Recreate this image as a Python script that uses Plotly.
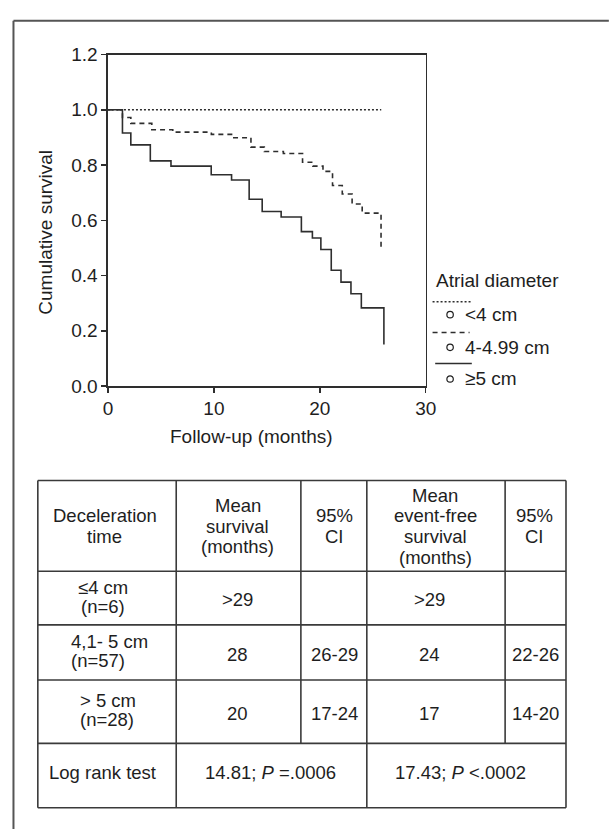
import plotly.graph_objects as go

W, H = 614, 836

# ---------------- data (Kaplan-Meier step curves) ----------------
series_names = ["<4 cm", "4-4.99 cm", "≥5 cm"]

t_lt4 = [0, 25.8]
s_lt4 = [1.0, 1.0]

t_4to5 = [0, 1.37, 2.16, 4.14, 6.12, 9.76, 11.88, 13.5, 14.76, 16.56, 18.37,
          19.35, 20.3, 21.2, 22.12, 23.05, 24.0, 25.78]
s_4to5 = [1.0, 0.972, 0.951, 0.928, 0.919, 0.911, 0.899, 0.865, 0.849, 0.842, 0.810,
          0.796, 0.777, 0.726, 0.695, 0.659, 0.626, 0.50]

t_ge5 = [0, 1.37, 2.16, 4.0, 5.95, 9.75, 11.67, 13.33, 14.56, 16.35, 18.26,
         19.3, 20.1, 21.08, 22.0, 22.94, 23.92, 26.05]
s_ge5 = [1.0, 0.916, 0.873, 0.815, 0.796, 0.765, 0.746, 0.676, 0.632, 0.612, 0.559,
         0.536, 0.494, 0.419, 0.376, 0.334, 0.283, 0.150]

x_ticks = [0, 10, 20, 30]
y_ticks = [0.0, 0.2, 0.4, 0.6, 0.8, 1.0, 1.2]

x_title = "Follow-up (months)"
y_title = "Cumulative survival"
legend_title = "Atrial diameter"

# ---------------- table content ----------------
header_cells = [
    ["Deceleration", "time"],
    ["Mean", "survival", "(months)"],
    ["95%", "CI"],
    ["Mean", "event-free", "survival", "(months)"],
    ["95%", "CI"],
]
row_groups = [["≤4 cm", "(n=6)"], ["4,1- 5 cm", "(n=57)"], ["> 5 cm", "(n=28)"]]
mean_survival = [">29", "28", "20"]
ci_survival = ["", "26-29", "17-24"]
mean_event_free = [">29", "24", "17"]
ci_event_free = ["", "22-26", "14-20"]
logrank_label = "Log rank test"
logrank_survival = "14.81; <i>P</i> =.0006"
logrank_event_free = "17.43; <i>P</i> <.0002"

# ---------------- styling ----------------
FONT = "Liberation Sans, Arial, Helvetica, sans-serif"
TXT = "#1e1e1e"
LINE = "#2e2e2e"
FS = 18.5
FS_AX = 19


def X(px):
    return px / W


def Y(py):
    return 1 - py / H


fig = go.Figure()

line_styles = [dict(dash="2px,2px"), dict(dash="5px,4px"), dict(dash="solid")]
for name, tx, sy, st in zip(series_names, [t_lt4, t_4to5, t_ge5], [s_lt4, s_4to5, s_ge5], line_styles):
    fig.add_trace(go.Scatter(
        x=tx, y=sy, mode="lines", name=name, line_shape="hv",
        line=dict(color=LINE, width=1.6, dash=st["dash"]), showlegend=False,
        hoverinfo="skip",
    ))

# plot area in pixels
PL, PR, PT, PB = 105.7, 432.0, 45.7, 385.7

fig.update_layout(
    width=W, height=H, autosize=False,
    margin=dict(l=0, r=0, t=0, b=0),
    paper_bgcolor="white", plot_bgcolor="white",
    font=dict(family=FONT, size=FS, color=TXT),
    xaxis=dict(domain=[X(PL), X(PR)], range=[0, 30], tickvals=x_ticks,
               showgrid=False, zeroline=False, showline=True, linecolor=LINE,
               linewidth=1.5, mirror=True, ticks="outside", ticklen=5,
               tickcolor=LINE, tickwidth=1.5, tickfont=dict(size=FS_AX)),
    yaxis=dict(domain=[Y(PB), Y(PT)], range=[0, 1.2], tickvals=y_ticks,
               tickformat=".1f", showgrid=False, zeroline=False, showline=True,
               linecolor=LINE, linewidth=1.5, mirror=True, ticks="outside",
               ticklen=5, tickcolor=LINE, tickwidth=1.5, tickfont=dict(size=FS_AX)),
)

shapes = []
ann = []

# outer frame (left and top edges visible)
shapes.append(dict(type="line", xref="paper", yref="paper", x0=X(8.7), x1=X(8.7),
                   y0=Y(11), y1=Y(840), line=dict(color="#555", width=2)))
shapes.append(dict(type="line", xref="paper", yref="paper", x0=X(8.7), x1=X(620),
                   y0=Y(11), y1=Y(11), line=dict(color="#555", width=2)))

# axis titles
ann.append(dict(text=y_title, x=X(42), y=Y(227.5), xref="paper", yref="paper",
                showarrow=False, textangle=-90, font=dict(size=FS_AX),
                xanchor="center", yanchor="middle"))
ann.append(dict(text=x_title, x=X(253), y=Y(437), xref="paper", yref="paper",
                showarrow=False, font=dict(size=FS_AX), xanchor="center", yanchor="middle"))

# legend (manual)
ann.append(dict(text=legend_title, x=X(440.5), y=Y(277.3), xref="paper", yref="paper",
                showarrow=False, font=dict(size=FS_AX), xanchor="left", yanchor="middle"))
leg_line_y = [299.3, 330.7, 362.7]
leg_line_x = [(439, 480), (439, 477), (441.7, 479.3)]
leg_text_y = [312.5, 346.0, 378.5]
for name, st, ly, (lx0, lx1), ty in zip(series_names, line_styles, leg_line_y, leg_line_x, leg_text_y):
    shapes.append(dict(type="line", xref="paper", yref="paper", x0=X(lx0), x1=X(lx1),
                       y0=Y(ly), y1=Y(ly), line=dict(color=LINE, width=1.5, dash=st["dash"])))
    cx, r = 457.0, 3.3
    shapes.append(dict(type="circle", xref="paper", yref="paper", x0=X(cx - r), x1=X(cx + r),
                       y0=Y(ty + r), y1=Y(ty - r), line=dict(color=TXT, width=1.2)))
    ann.append(dict(text=name, x=X(470.5), y=Y(ty), xref="paper", yref="paper",
                    showarrow=False, font=dict(size=FS_AX), xanchor="left", yanchor="middle"))

# table grid
cols = [33.7, 175.8, 303.8, 371.5, 513.5, 576.0]
rows = [482.7, 575.7, 630.7, 687.3, 752.3, 818.3]
TL = dict(color="#3a3a3a", width=1.6)
for ry in rows:
    shapes.append(dict(type="line", xref="paper", yref="paper", x0=X(cols[0]), x1=X(cols[-1]),
                       y0=Y(ry), y1=Y(ry), line=TL))
for i, cx in enumerate(cols):
    bottom = rows[-1] if i in (0, 1, 3, 5) else rows[-2]
    shapes.append(dict(type="line", xref="paper", yref="paper", x0=X(cx), x1=X(cx),
                       y0=Y(rows[0]), y1=Y(bottom), line=TL))


def cell_lines(lines, cx, cy, spacing=21.0, anchor="center"):
    n = len(lines)
    for k, s in enumerate(lines):
        yy = cy + (k - (n - 1) / 2) * spacing
        ann.append(dict(text=s, x=X(cx), y=Y(yy), xref="paper", yref="paper",
                        showarrow=False, font=dict(size=FS), xanchor=anchor, yanchor="middle"))


col_cx = [102.5, 239.0, 338.5, 441.7, 543.5]
header_cy = 529.5
for lines, cx in zip(header_cells, col_cx):
    cell_lines(lines, cx, header_cy, spacing=21.2)

row_cy = [(rows[i + 1] + rows[i + 2]) / 2 for i in range(3)]
group_pos = [(101.0, "center"), (66.0, "left"), (75.0, "left")]
for i in range(3):
    cy = row_cy[i]
    gx, anc = group_pos[i]
    cell_lines(row_groups[i], gx, cy - 1.5, spacing=19.5, anchor=anc)
    cell_lines([mean_survival[i]], 239.0, cy + 2)
    cell_lines([ci_survival[i]], 338.0, cy + 2)
    cell_lines([mean_event_free[i]], 436.0, cy + 2)
    cell_lines([ci_event_free[i]], 545.0, cy + 2)

lr_cy = 782.0
cell_lines([logrank_label], 100.5, lr_cy)
cell_lines([logrank_survival], 272.5, lr_cy)
cell_lines([logrank_event_free], 468.0, lr_cy)

fig.update_layout(shapes=shapes, annotations=ann, hovermode=False, dragmode=False)

fig.write_html(
    "out.html",
    config={"displayModeBar": False, "staticPlot": True},
    post_script="document.body.style.margin='0';document.body.style.padding='0';"
                "document.body.style.overflow='hidden';",
)
